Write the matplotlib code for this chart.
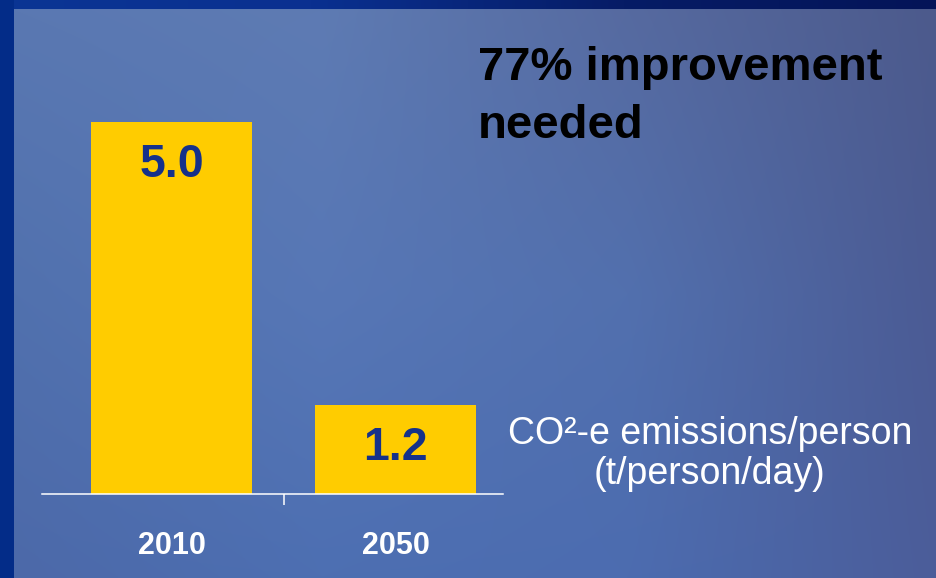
import numpy as np
import matplotlib.pyplot as plt
from matplotlib.colors import to_rgb

plt.rcParams['font.family'] = ['Liberation Sans', 'DejaVu Sans']

years = ['2010', '2050']
emissions = [5.0, 1.2]
headline = ['77% improvement', 'needed']
unit_label = 'CO\u00b2-e emissions/person\n(t/person/day)'

W, H = 936, 578


def smooth_gradient(colors, h, w):
    # bilinear blend of a small grid of colours up to h x w pixels
    grid = np.array([[to_rgb(c) for c in row] for row in colors])
    gy = np.linspace(0, grid.shape[0] - 1, h)
    gx = np.linspace(0, grid.shape[1] - 1, w)
    rows = np.empty((grid.shape[0], w, 3))
    for r in range(grid.shape[0]):
        for ch in range(3):
            rows[r, :, ch] = np.interp(gx, np.arange(grid.shape[1]), grid[r, :, ch])
    out = np.empty((h, w, 3))
    for ch in range(3):
        for c in range(w):
            out[:, c, ch] = np.interp(gy, np.arange(grid.shape[0]), rows[:, c, ch])
    return out


panel = smooth_gradient([
    ['#5a78b2', '#5e7bb3', '#566aa0', '#4c5a8c'],
    ['#5171ae', '#5777b6', '#5270ae', '#4b5b94'],
    ['#4c69a9', '#4d6fb2', '#4c6cb0', '#4b5d9a'],
], 200, 300)
top_strip = smooth_gradient([['#0b3594', '#0a3090', '#061c66', '#041458']], 2, 300)

fig = plt.figure(figsize=(W / 100, H / 100), dpi=100)

bg = fig.add_axes([0, 0, 1, 1])
bg.set_xlim(0, W)
bg.set_ylim(H, 0)
bg.axis('off')
bg.imshow(panel, extent=(14, W, H, 9), aspect='auto', interpolation='bilinear')
bg.imshow(top_strip, extent=(0, W, 9, 0), aspect='auto', interpolation='bilinear')
bg.add_patch(plt.Rectangle((0, 0), 14, H, color='#032c88', lw=0))

# bar chart area: baseline at y=494 px, axis runs from x=42 to x=503
ax = fig.add_axes([42 / W, (H - 494) / H, 461 / W, (494 - 9) / H])
ax.patch.set_visible(False)
x = np.arange(len(years))
ax.bar(x, emissions, width=0.72, color='#ffcc00')
ax.set_xlim(-0.58, 1.48)
ax.set_ylim(0, 485 / 74.5)

for i, v in enumerate(emissions):
    ax.annotate(f'{v:.1f}', xy=(i, v), xytext=(0, -31), textcoords='offset points',
                ha='center', va='center', fontsize=33.5, fontweight='bold', color='#15318a')

ax.set_xticks(x)
ax.set_xticklabels(years, fontsize=22, fontweight='bold', color='white')
ax.tick_params(axis='x', which='major', length=0, pad=27)
ax.set_xticks([0.5], minor=True)
ax.tick_params(axis='x', which='minor', length=8, width=1.1, color='white', direction='out')
ax.set_yticks([])
for side in ['top', 'right', 'left']:
    ax.spines[side].set_visible(False)
ax.spines['bottom'].set_color('white')
ax.spines['bottom'].set_linewidth(1.1)

# headline, one line at a time (baselines at 80 and 138 px from the top)
for line, base in zip(headline, [80, 138]):
    fig.text(478 / W, (H - base) / H, line, fontsize=34, fontweight='bold', color='black',
             ha='left', va='baseline')
fig.text(710 / W, (H - 484) / H, unit_label, fontsize=27, color='white',
         ha='center', va='baseline', multialignment='center', linespacing=1.15)

fig.savefig('out.png', dpi=100)
